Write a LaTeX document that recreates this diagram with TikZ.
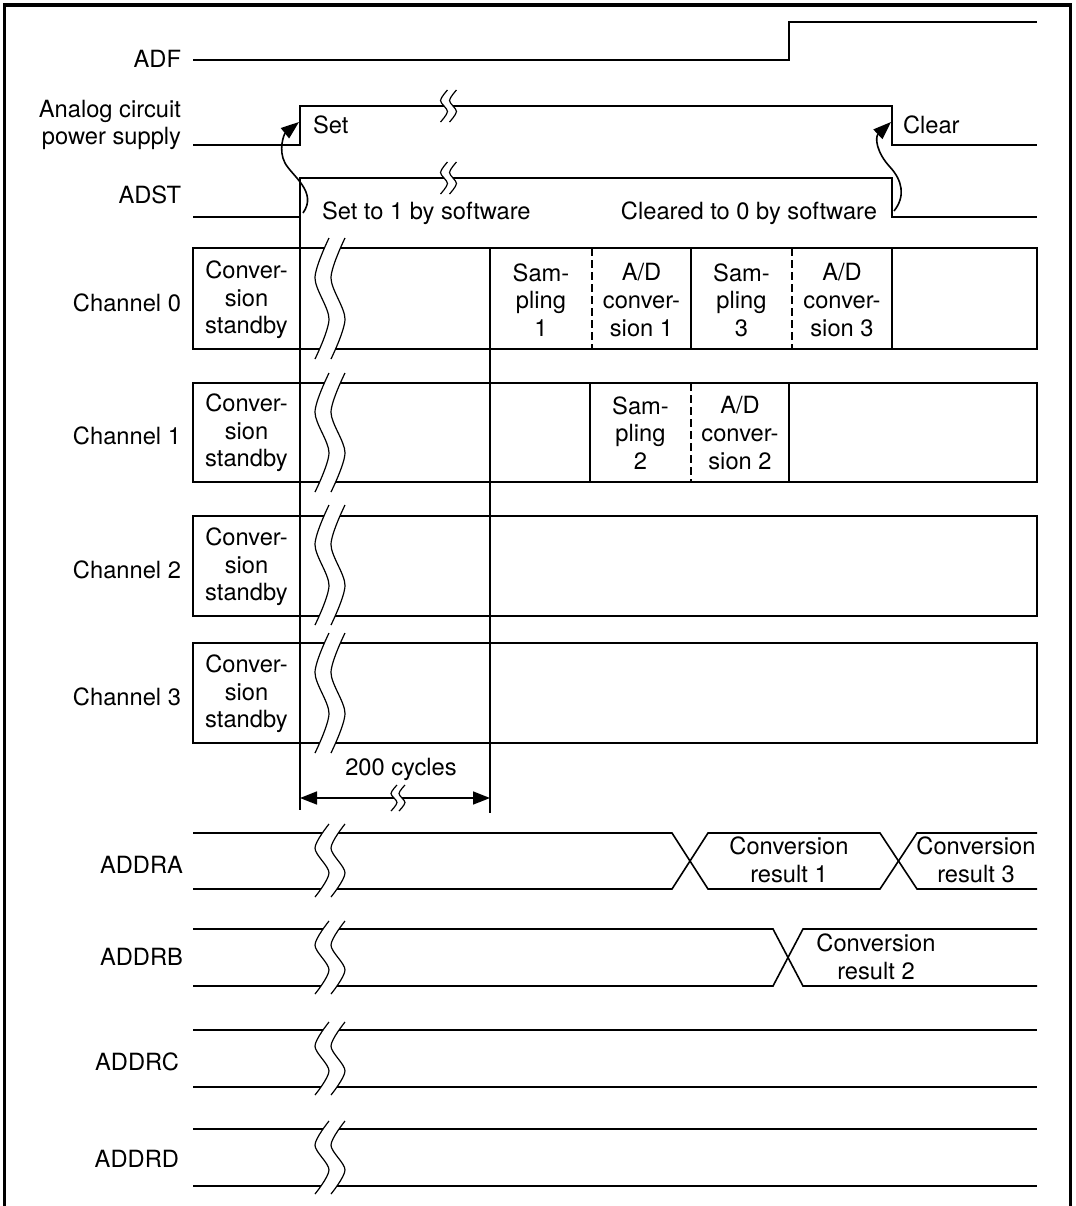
\documentclass[tikz,border=0pt]{standalone}
\usepackage{fontspec}
\setmainfont{TeX Gyre Heros}
\usetikzlibrary{arrows.meta}
\newcommand{\BrkMark}[5]{%
  \fill[white] plot[smooth] coordinates {({#1+#4},#2) ({#1-#4},{#2+0.33*(#3-#2)}) ({#1+#4},{#2+0.67*(#3-#2)}) ({#1-#4},#3)}
    -- plot[smooth] coordinates {({#1+#5-#4},#3) ({#1+#5+#4},{#2+0.67*(#3-#2)}) ({#1+#5-#4},{#2+0.33*(#3-#2)}) ({#1+#5+#4},#2)} -- cycle;
  \draw[brkline] plot[smooth] coordinates {({#1+#4},#2) ({#1-#4},{#2+0.33*(#3-#2)}) ({#1+#4},{#2+0.67*(#3-#2)}) ({#1-#4},#3)};
  \draw[brkline] plot[smooth] coordinates {({#1+#5+#4},#2) ({#1+#5-#4},{#2+0.33*(#3-#2)}) ({#1+#5+#4},{#2+0.67*(#3-#2)}) ({#1+#5-#4},#3)};
}
\begin{document}
\begin{tikzpicture}[x=0.5pt,y=-0.5pt, line width=0.8pt,
  lbl/.style={font=\fontsize{11.85pt}{13.8pt}\selectfont, inner sep=0pt, outer sep=0pt},
  cell/.style={lbl, align=center},
  brkline/.style={line width=0.6pt},
  tipA/.style={-{Triangle[length=9pt,width=6.5pt]}},
  dimarr/.style={{Triangle[length=8.5pt,width=6.5pt]}-{Triangle[length=8.5pt,width=6.5pt]}},
  divdash/.style={dash pattern=on 4pt off 2pt},
  frameline/.style={line width=1.6pt}]
\useasboundingbox (0,0) rectangle (1076,1206);
% frame
\draw[frameline] (4.5,1206) -- (4.5,5) -- (1070.5,5) -- (1070.5,1206);

% control signals
\draw (193,60) -- (789,60) -- (789,22) -- (1037,22);
\draw (193,145) -- (300,145) -- (300,106) -- (892,106) -- (892,145) -- (1037,145);
\draw (193,217) -- (300,217) -- (300,178) -- (892,178) -- (892,217) -- (1037,217);
\draw (300,217) -- (300,810);

% channel boxes
\draw (193,248) rectangle (1037,349);
\draw (193,383) rectangle (1037,482);
\draw (193,516) rectangle (1037,616);
\draw (193,643) rectangle (1037,743);
\draw (490,248) -- (490,813);
\draw[divdash] (592,248) -- (592,349);
\draw (691,248) -- (691,349);
\draw[divdash] (792,248) -- (792,349);
\draw (892,248) -- (892,349);
\draw (590,383) -- (590,482);
\draw[divdash] (691,383) -- (691,482);
\draw (789,383) -- (789,482);

% data registers
\draw (193,833) -- (672,833) -- (708,889) -- (880,889) -- (917,833) -- (1037,833);
\draw (193,889) -- (672,889) -- (708,833) -- (880,833) -- (917,889) -- (1037,889);
\draw (193,929) -- (773,929) -- (803,986) -- (1037,986);
\draw (193,986) -- (773,986) -- (803,929) -- (1037,929);
\draw (193,1030) -- (1037,1030);
\draw (193,1087) -- (1037,1087);
\draw (193,1129) -- (1037,1129);
\draw (193,1186) -- (1037,1186);

% 200 cycles
\coordinate (cycL) at (300,798);
\coordinate (cycR) at (490,798);
\draw[dimarr] (cycL) -- (cycR);

% break marks
\BrkMark{444}{90}{122}{3.5}{9}
\BrkMark{444}{162}{194}{3.5}{9}
\BrkMark{322}{238}{359}{7}{16}
\BrkMark{322}{373}{492}{7}{16}
\BrkMark{322}{505}{625}{7}{16}
\BrkMark{322}{633}{753}{7}{16}
\BrkMark{394}{785}{811}{3}{8}
\BrkMark{322}{824}{897}{7}{16}
\BrkMark{322}{921}{994}{7}{16}
\BrkMark{322}{1022}{1095}{7}{16}
\BrkMark{322}{1121}{1194}{7}{16}

% curved arrows
\coordinate (setFrom) at (303,213);
\coordinate (setTo) at (299,122);
\draw[tipA] (setFrom) .. controls (318,192) and (292,176) .. (285,163) .. controls (278,150) and (284,134) .. (setTo);
\coordinate (clrFrom) at (894,211);
\coordinate (clrTo) at (891,122);
\draw[tipA] (clrFrom) .. controls (906,196) and (902,180) .. (890,167) .. controls (876,152) and (875,137) .. (clrTo);

% signal labels
\node[lbl, anchor=base east] (lADF) at (181,67) {ADF};
\node[lbl, anchor=east, align=right] (lPWR) at (181,125) {Analog circuit\\power supply};
\node[lbl, anchor=base east] (lADST) at (181,203) {ADST};
\node[lbl, anchor=base east] (lCh0) at (181,311) {Channel 0};
\node[lbl, anchor=base east] (lCh1) at (181,444) {Channel 1};
\node[lbl, anchor=base east] (lCh2) at (181,578) {Channel 2};
\node[lbl, anchor=base east] (lCh3) at (181,705) {Channel 3};
\node[lbl, anchor=base east] (lA) at (183,873) {ADDRA};
\node[lbl, anchor=base east] (lB) at (183,965) {ADDRB};
\node[lbl, anchor=base east] (lC) at (179,1070) {ADDRC};
\node[lbl, anchor=base east] (lD) at (179,1167) {ADDRD};

% annotations
\node[lbl, anchor=base west] (tSet) at (313,133) {Set};
\node[lbl, anchor=base west] (tClear) at (903,133) {Clear};
\node[lbl, anchor=base west] (tSet1) at (322,219) {Set to 1 by software};
\node[lbl, anchor=base east] (tClr0) at (877,219) {Cleared to 0 by software};
\node[lbl, anchor=base] (tCyc) at (401,775) {200 cycles};

% cell texts
\node[cell] (c0s) at (246.5,300) {Conver-\\sion\\standby};
\node[cell] (c1s) at (246.5,433) {Conver-\\sion\\standby};
\node[cell] (c2s) at (246.5,567) {Conver-\\sion\\standby};
\node[cell] (c3s) at (246.5,694) {Conver-\\sion\\standby};
\node[cell] (c0a) at (541,300) {Sam-\\pling\\1};
\node[cell] (c0b) at (641.5,300) {A/D\\conver-\\sion 1};
\node[cell] (c0c) at (741.5,300) {Sam-\\pling\\3};
\node[cell] (c0d) at (842,300) {A/D\\conver-\\sion 3};
\node[cell] (c1a) at (640.5,433) {Sam-\\pling\\2};
\node[cell] (c1b) at (740,433) {A/D\\conver-\\sion 2};

% conversion results
\node[cell] (r1) at (789,860) {Conversion\\result 1};
\node[cell] (r3) at (976,860) {Conversion\\result 3};
\node[cell] (r2) at (876,957) {Conversion\\result 2};
\end{tikzpicture}
\end{document}
